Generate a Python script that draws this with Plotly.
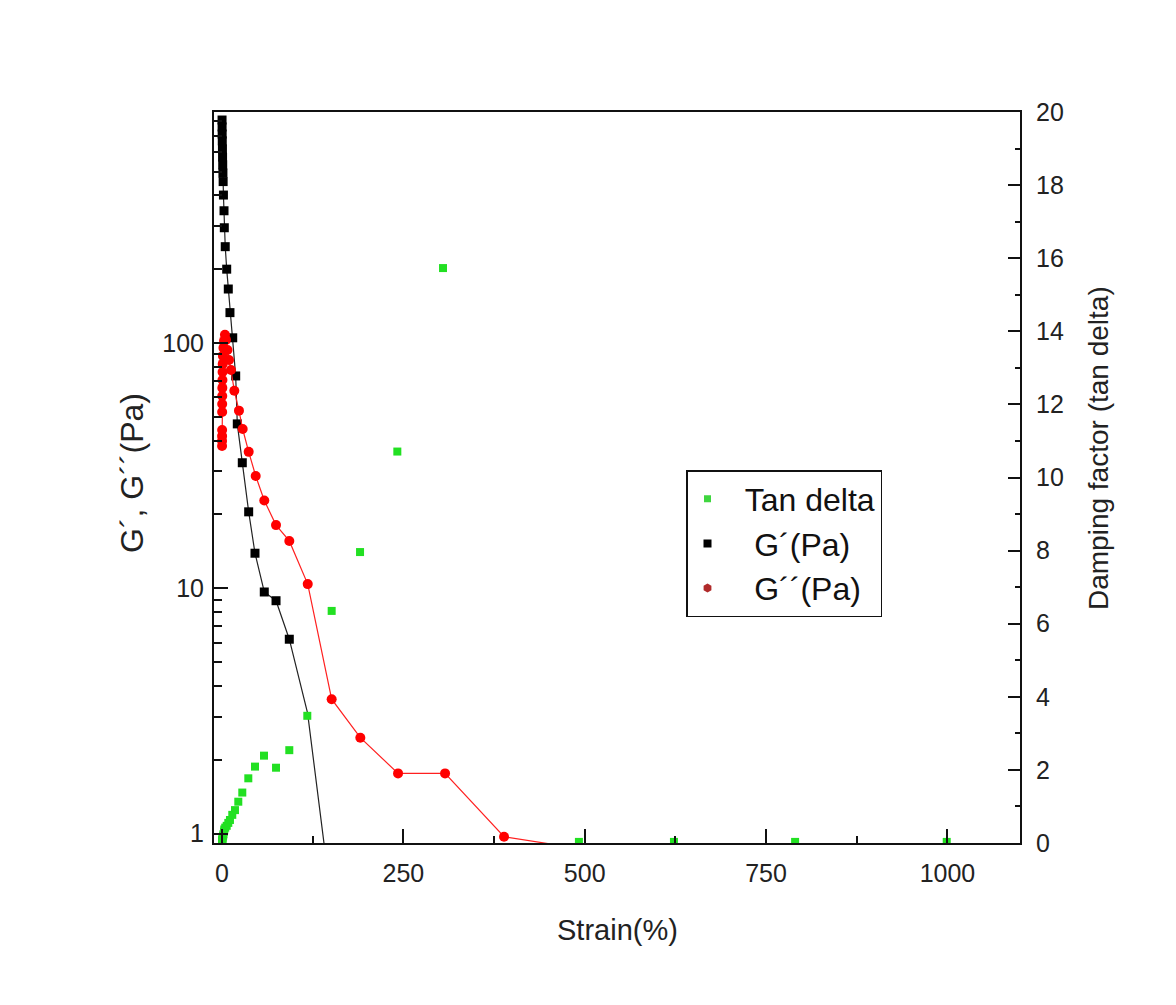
import plotly.graph_objects as go

# ---------------- data ----------------
# G' (Pa)  - black squares
gp_strain = [0.1, 0.16, 0.25, 0.4, 0.63, 0.8, 1.0, 1.3, 1.6, 2.0, 2.8, 3.2, 4.5, 6.5,
             8.7, 11.0, 14.8, 18.9, 21.1, 28.0, 36.8, 45.5, 58.3, 74.5, 92.8]
gp_value = [811, 760, 711, 667, 618, 573, 532, 493, 455, 401, 346, 295, 247, 200,
            166, 133, 105, 73.4, 46.8, 32.5, 20.5, 13.9, 9.66, 8.9, 6.2]
# continuation of the G' curve below the axis (line only)
gp_tail_strain = [118, 160]
gp_tail_value = [3.1, 0.32]

# G'' (Pa) - red circles
gpp_strain = [0.1, 0.13, 0.16, 0.2, 0.25, 0.32, 0.4, 0.5, 0.63, 0.8, 1.0, 1.3, 2.0, 2.8,
              4.1, 5.5, 7.6, 9.7, 12.4, 17.0, 23.4, 28.5, 36.8, 46.5, 58.3, 74.5, 92.8,
              118.2, 151.2, 190.7, 242.7, 307.5, 388.8]
gpp_value = [38.0, 39.9, 41.8, 44.2, 52.3, 56.4, 60.8, 65.6, 70.7, 76.2, 82.2, 88.6, 95.5, 102,
             108, 103, 93.7, 85.3, 77.6, 63.9, 53.0, 44.6, 36.0, 28.7, 22.8, 18.1, 15.6,
             10.4, 3.53, 2.46, 1.76, 1.76, 0.971]
gpp_tail_strain = [492]
gpp_tail_value = [0.87]

# Tan delta - green squares (right axis)
tan_strain = [0.1, 0.25, 0.4, 0.63, 1.0, 1.6, 2.0, 2.8, 3.2, 4.5, 6.5, 8.7, 11.0, 14.2,
              17.9, 22.5, 28.0, 36.3, 45.5, 57.9, 74.5, 92.8, 117.6, 151.2, 190.3, 241.7,
              304.7, 492, 623, 790, 999]
tan_value = [0.05, 0.07, 0.09, 0.11, 0.15, 0.2, 0.24, 0.31, 0.37, 0.42, 0.47, 0.55, 0.63, 0.77,
             0.90, 1.13, 1.38, 1.77, 2.09, 2.39, 2.06, 2.54, 3.48, 6.35, 7.96, 10.71,
             15.73, 0.03, 0.03, 0.03, 0.03]

x_ticks = [0, 250, 500, 750, 1000]
y_left_ticks = [1, 10, 100]
y_right_ticks = [0, 2, 4, 6, 8, 10, 12, 14, 16, 18, 20]

FONT = "Liberation Sans, Arial, sans-serif"

fig = go.Figure()

# G' line + markers
fig.add_trace(go.Scatter(x=gp_strain + gp_tail_strain, y=gp_value + gp_tail_value,
                         mode="lines", line=dict(color="#222222", width=1.2),
                         showlegend=False, hoverinfo="skip"))
fig.add_trace(go.Scatter(x=gp_strain, y=gp_value, mode="markers",
                         marker=dict(symbol="square", size=9, color="black"),
                         showlegend=False))
# G'' line + markers
fig.add_trace(go.Scatter(x=gpp_strain + gpp_tail_strain, y=gpp_value + gpp_tail_value,
                         mode="lines", line=dict(color="#ff2020", width=1.2),
                         showlegend=False, hoverinfo="skip"))
fig.add_trace(go.Scatter(x=gpp_strain, y=gpp_value, mode="markers",
                         marker=dict(symbol="circle", size=10, color="#ff0000"),
                         showlegend=False))
# tan delta markers (right axis)
fig.add_trace(go.Scatter(x=tan_strain, y=tan_value, mode="markers", yaxis="y2",
                         marker=dict(symbol="square", size=8, color="#22e022"),
                         showlegend=False))

# legend entries
fig.add_trace(go.Scatter(x=[None], y=[None], mode="markers", name="  Tan delta",
                         marker=dict(symbol="square", size=7, color="#3fd63f"), legendrank=1))
fig.add_trace(go.Scatter(x=[None], y=[None], mode="markers", name="   G´(Pa)",
                         marker=dict(symbol="square", size=8, color="black"), legendrank=2))
fig.add_trace(go.Scatter(x=[None], y=[None], mode="markers", name="   G´´(Pa)",
                         marker=dict(symbol="hexagon", size=9, color="#b02a2a"), legendrank=3))

L, R, T, B = 214, 1020, 112, 843
W, H = 1176, 1005

def px_x(p):
    return (p - L) / (R - L)

def px_y(p):
    return (B - p) / (B - T)

axis_common = dict(showline=True, linecolor="#111111", linewidth=2, showgrid=False,
                   zeroline=False, ticks="inside", tickcolor="#111111",
                   tickfont=dict(family=FONT, size=25, color="#222222"))

fig.update_layout(
    width=W, height=H,
    margin=dict(l=L, r=W - R, t=T, b=H - B),
    paper_bgcolor="white", plot_bgcolor="white",
    font=dict(family=FONT, color="#222222"),
    xaxis=dict(range=[-11, 1100], tickvals=x_ticks, ticklen=14, tickwidth=1.5,
               mirror=True, ticklabelstandoff=7,
               minor=dict(ticks="inside", ticklen=7, dtick=125, tick0=0, tickcolor="#111111",
                          showgrid=False),
               **axis_common),
    yaxis=dict(type="log", range=[-0.0383, 2.9417], tickvals=y_left_ticks, ticklen=14,
               tickwidth=1.5, ticklabelstandoff=3,
               minor=dict(ticks="inside", ticklen=8, dtick="D1", tickcolor="#111111",
                          showgrid=False),
               **axis_common),
    yaxis2=dict(overlaying="y", side="right", range=[0, 20], tickvals=y_right_ticks,
                ticklen=12, tickwidth=1.5, ticklabelstandoff=9,
                minor=dict(ticks="inside", ticklen=5, dtick=1, tick0=0, tickcolor="#111111",
                           showgrid=False),
                **axis_common),
    legend=dict(x=px_x(686), y=px_y(470), xanchor="left", yanchor="top",
                bgcolor="white", bordercolor="#111111", borderwidth=1.5,
                font=dict(family=FONT, size=32, color="#111111"),
                itemwidth=30, tracegroupgap=0),
    showlegend=True,
    annotations=[
        dict(text="Strain(%)", x=0.5, y=px_y(930), xref="paper", yref="paper",
             showarrow=False, font=dict(family=FONT, size=29, color="#222222"),
             xanchor="center", yanchor="middle"),
        dict(text="G´, G´´(Pa)", x=px_x(132), y=px_y(473), xref="paper", yref="paper",
             showarrow=False, textangle=-90, font=dict(family=FONT, size=32, color="#222222"),
             xanchor="center", yanchor="middle"),
        dict(text="Damping factor (tan delta)", x=px_x(1098), y=px_y(448), xref="paper",
             yref="paper", showarrow=False, textangle=-90,
             font=dict(family=FONT, size=28, color="#222222"),
             xanchor="center", yanchor="middle"),
    ],
)

fig.write_html("out.html")
